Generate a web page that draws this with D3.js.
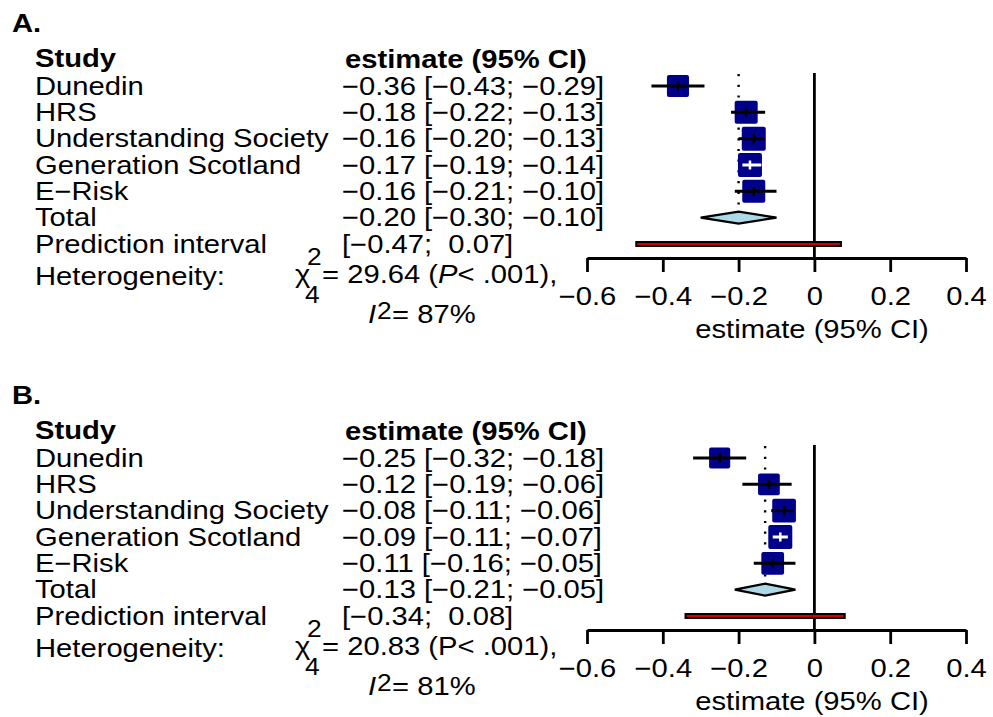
<!DOCTYPE html>
<html>
<head>
<meta charset="utf-8">
<title>Forest plots</title>
<script src="https://d3js.org/d3.v7.min.js"></script>
<style>
  body { margin: 0; background: #fff; }
  svg text { font-family: "Liberation Sans", Arial, Helvetica, sans-serif; fill: #000; }
</style>
</head>
<body>
<div id="chart"></div>
<script>
// studies, same in both panels
var studies = ["Dunedin", "HRS", "Understanding Society", "Generation Scotland", "E\u2212Risk"];

// panel A
var estA = [-0.36, -0.18, -0.16, -0.17, -0.16];
var loA = [-0.43, -0.22, -0.20, -0.19, -0.21];
var hiA = [-0.29, -0.13, -0.13, -0.14, -0.10];
var weightA = [18.0, 19.6, 21.3, 21.3, 19.6];
var totalA = [-0.20, -0.30, -0.10];   // estimate, lower, upper
var predA = [-0.47, 0.07];
var hetA = {q: "29.64", df: "4", p: "< .001", i2: "87%"};

// panel B
var estB = [-0.25, -0.12, -0.08, -0.09, -0.11];
var loB = [-0.32, -0.19, -0.114, -0.11, -0.16];
var hiB = [-0.18, -0.06, -0.056, -0.07, -0.05];
var weightB = [16.5, 17.5, 20.8, 21.3, 19.1];
var totalB = [-0.13, -0.21, -0.05];
var predB = [-0.34, 0.08];
var hetB = {q: "20.83", df: "4", p: "< .001", i2: "81%"};

var tickVals = [-0.6, -0.4, -0.2, 0, 0.2, 0.4];
var tickLabels = ["\u22120.6", "\u22120.4", "\u22120.2", "0", "0.2", "0.4"];

var panels = [
    {label: "A.", est: estA, lo: loA, hi: hiA, w: weightA, total: totalA, pred: predA, het: hetA, pItalic: true},
    {label: "B.", est: estB, lo: loB, hi: hiB, w: weightB, total: totalB, pred: predB, het: hetB, pItalic: false}
];

var W = 993, H = 717;
var FS = 25.5;       // font size
var SX = 1.145;      // text is a bit wider than the font
var PANEL_SHIFT = 372;
var AXIS_Y = 258;

var svg = d3.select("#chart").append("svg")
    .attr("width", W)
    .attr("height", H);

var x = d3.scaleLinear().domain([-0.6, 0.4]).range([587, 966]);
var rowY = d3.scaleLinear().domain([0, 6]).range([86, 244]);   // 5 studies, total, prediction
var side = d3.scaleSqrt().domain([0, 21.3]).range([0, 24]);
var fmt = d3.format(".2f");

function pad(v) {
    return (v >= 0 ? "\u00A0" : "") + fmt(v);
}

function addText(g, px, py, str, weight, anchor, size) {
    return g.append("text")
        .attr("transform", "translate(" + px + "," + py + ") scale(" + SX + ",1)")
        .attr("text-anchor", anchor || "start")
        .attr("font-size", size || FS)
        .attr("font-weight", weight || "normal")
        .text(str);
}

panels.forEach(function(p, k) {
    var g = svg.append("g").attr("transform", "translate(0," + (k * PANEL_SHIFT) + ")");

    addText(g, 12, 32, p.label, "bold");
    addText(g, 35, 67, "Study", "bold");
    addText(g, 345, 68, "estimate (95% CI)", "bold");

    // left columns
    studies.forEach(function(s, i) {
        addText(g, 35, rowY(i) + 8.5, s);
        addText(g, 342, rowY(i) + 8.5, fmt(p.est[i]) + " [" + fmt(p.lo[i]) + "; " + fmt(p.hi[i]) + "]");
    });
    addText(g, 35, rowY(5) + 8.5, "Total");
    addText(g, 342, rowY(5) + 8.5, fmt(p.total[0]) + " [" + fmt(p.total[1]) + "; " + fmt(p.total[2]) + "]");
    addText(g, 35, rowY(6) + 8.5, "Prediction interval");
    addText(g, 342, rowY(6) + 8.5, "[" + pad(p.pred[0]) + "; " + pad(p.pred[1]) + "]");

    // heterogeneity
    addText(g, 35, 285, "Heterogeneity:");
    addText(g, 295, 283, "\u03C7");
    addText(g, 307, 265, "2", null, null, 23);
    addText(g, 305, 303, p.het.df, null, null, 23);
    var t = addText(g, 322, 283, "= " + p.het.q + " (");
    t.append("tspan").attr("font-style", p.pItalic ? "italic" : "normal").text("P");
    t.append("tspan").text(p.het.p + "),");
    addText(g, 368, 323, "I").attr("font-style", "italic");
    addText(g, 377, 319, "2", null, null, 23);
    addText(g, 392, 323, "= " + p.het.i2);

    // reference lines
    var top = rowY(0) - 13;
    g.append("line")
        .attr("x1", x(0)).attr("x2", x(0))
        .attr("y1", top).attr("y2", AXIS_Y)
        .attr("stroke", "black")
        .attr("stroke-width", 2.8);
    g.append("line")
        .attr("x1", x(p.total[0])).attr("x2", x(p.total[0]))
        .attr("y1", top + 1).attr("y2", rowY(5) - 6)
        .attr("stroke", "black")
        .attr("stroke-width", 2.4)
        .attr("stroke-dasharray", "2.2 8.5");

    // study squares and CIs
    studies.forEach(function(s, i) {
        var cx = x(p.est[i]), cy = rowY(i), sz = side(p.w[i]);
        g.append("rect")
            .attr("x", cx - sz / 2).attr("y", cy - sz / 2)
            .attr("width", sz).attr("height", sz)
            .attr("rx", 2)
            .attr("fill", "#00008B");
        var inside = x(p.lo[i]) > cx - sz / 2 && x(p.hi[i]) < cx + sz / 2;
        var col = inside ? "white" : "black";
        g.append("line")
            .attr("x1", x(p.lo[i])).attr("x2", x(p.hi[i]))
            .attr("y1", cy).attr("y2", cy)
            .attr("stroke", col)
            .attr("stroke-width", 3);
        g.append("line")
            .attr("x1", cx).attr("x2", cx)
            .attr("y1", cy - 4.5).attr("y2", cy + 4.5)
            .attr("stroke", col)
            .attr("stroke-width", 2.5);
    });

    // pooled diamond
    var dy = rowY(5);
    g.append("path")
        .attr("d", "M" + x(p.total[1]) + "," + dy +
                   "L" + x(p.total[0]) + "," + (dy - 6) +
                   "L" + x(p.total[2]) + "," + dy +
                   "L" + x(p.total[0]) + "," + (dy + 6) + "Z")
        .attr("fill", "#ADD8E6")
        .attr("stroke", "black")
        .attr("stroke-width", 2.2);

    // prediction interval
    g.append("rect")
        .attr("x", x(p.pred[0])).attr("y", rowY(6) - 2)
        .attr("width", x(p.pred[1]) - x(p.pred[0])).attr("height", 4)
        .attr("fill", "#CC0000")
        .attr("stroke", "black")
        .attr("stroke-width", 2);

    // x axis
    var axis = d3.axisBottom(x)
        .tickValues(tickVals)
        .tickFormat(function(d, i) { return tickLabels[i]; })
        .tickSize(14)
        .tickSizeOuter(0)
        .tickPadding(15);
    var ax = g.append("g")
        .attr("transform", "translate(0," + AXIS_Y + ")")
        .call(axis)
        .attr("font-size", null)
        .attr("font-family", null);
    ax.select(".domain").attr("stroke-width", 2.8);
    ax.selectAll(".tick line").attr("stroke-width", 2.8);
    ax.selectAll(".tick text")
        .attr("font-size", FS)
        .attr("transform", "scale(" + SX + ",1)");

    addText(g, 812, 338, "estimate (95% CI)", null, "middle");
});
</script>
</body>
</html>
